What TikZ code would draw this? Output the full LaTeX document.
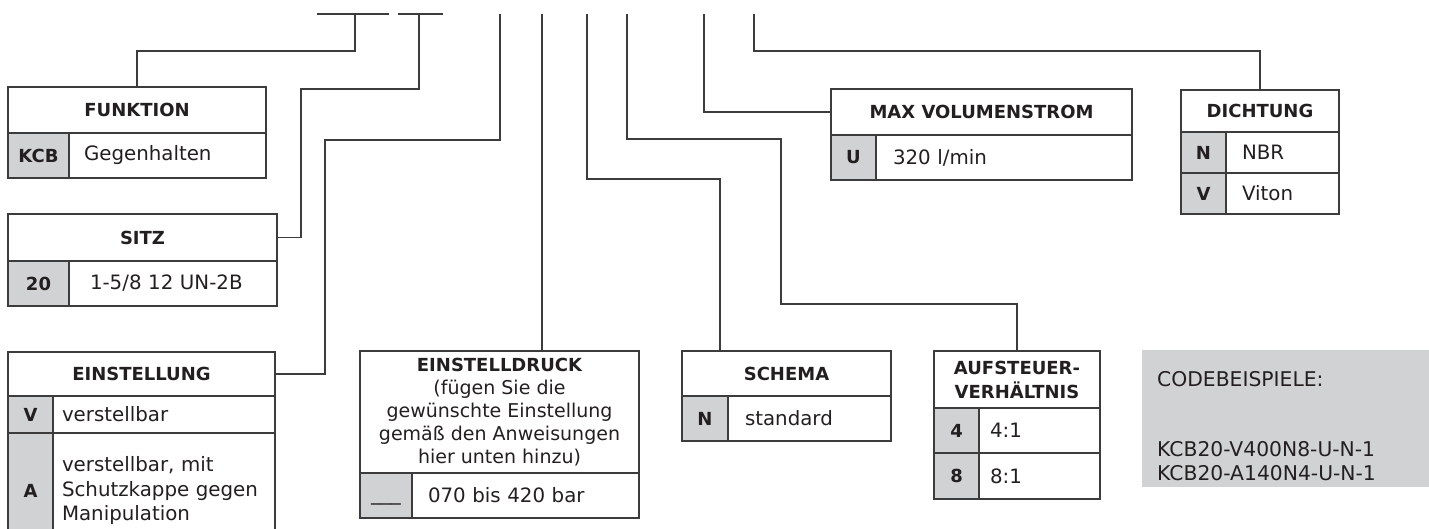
\documentclass[tikz,border=0pt]{standalone}
\usepackage{fontspec}
\setmainfont{DejaVu Sans}
\definecolor{ln}{HTML}{3C3C3C}
\definecolor{gr}{HTML}{D1D2D4}
\definecolor{tx}{HTML}{231F20}
\newcommand\hdrfont{\bfseries\fontsize{18}{24}\selectfont}
\newcommand\bodyfont{\fontsize{19.8}{24.5}\selectfont}
\newcommand\dfont{\fontsize{19}{22.8}\selectfont}
\newcommand\exfont{\fontsize{20.3}{24}\selectfont}
\begin{document}
\begin{tikzpicture}[x=1pt,y=-1pt,
  cell/.style={draw=ln, line width=1.2pt, rectangle, inner sep=0pt, outer sep=0pt, anchor=north west, text=tx},
  hdr/.style={cell, font=\hdrfont, align=center},
  codecell/.style={cell, fill=gr, font=\hdrfont},
  descell/.style={cell, font=\bodyfont, align=left},
  extext/.style={anchor=base west, inner sep=0pt, font=\exfont, text=tx},
  conn/.style={draw=ln, line width=1.2pt}]
\useasboundingbox (0,0) rectangle (1429,529);

% FUNKTION
\node[hdr, minimum width=258pt, minimum height=46pt] (fh) at (8,87) {FUNKTION};
\node[codecell, minimum width=61pt, minimum height=45pt] (fc) at (8,133) {KCB};
\node[descell, minimum width=197pt, minimum height=45pt, inner xsep=15pt, text width=167pt] (fd) at (69,133) {Gegenhalten};

% SITZ
\node[hdr, minimum width=269pt, minimum height=47pt] (sh) at (8,214) {SITZ};
\node[codecell, minimum width=61pt, minimum height=45pt] (sc) at (8,261) {20};
\node[descell, minimum width=208pt, minimum height=45pt, inner xsep=21pt, text width=166pt] (sd) at (69,261) {1-5/8 12 UN-2B};

% EINSTELLUNG
\node[hdr, minimum width=267pt, minimum height=44pt] (eh) at (8,352) {EINSTELLUNG};
\node[codecell, minimum width=45pt, minimum height=37pt] (ec1) at (8,396) {V};
\node[descell, minimum width=222pt, minimum height=37pt, inner xsep=9pt, text width=204pt] (ed1) at (53,396) {verstellbar};
\node[codecell, minimum width=45pt, minimum height=116pt] (ec2) at (8,433) {A};
\node[descell, minimum width=222pt, minimum height=116pt, inner xsep=9pt, text width=204pt] (ed2) at (53,433) {verstellbar, mit\\Schutzkappe gegen\\Manipulation};

% EINSTELLDRUCK
\node[hdr, font=\dfont, minimum width=279pt, minimum height=122pt] (dh) at (360,351) {{\hdrfont EINSTELLDRUCK}\\(fügen Sie die\\gewünschte Einstellung\\gemäß den Anweisungen\\hier unten hinzu)};
\node[codecell, font=\bodyfont, minimum width=52pt, minimum height=45pt] (dc) at (360,473) {\vphantom{Ag}\_\_\_};
\node[descell, minimum width=227pt, minimum height=45pt, inner xsep=16pt, text width=195pt] (dd) at (412,473) {070 bis 420 bar};

% SCHEMA
\node[hdr, minimum width=209pt, minimum height=45pt] (sch) at (682,351) {SCHEMA};
\node[codecell, minimum width=46pt, minimum height=45pt] (scc) at (682,396) {N};
\node[descell, minimum width=163pt, minimum height=45pt, inner xsep=17pt, text width=129pt] (scd) at (728,396) {standard};

% AUFSTEUERVERHAELTNIS
\node[hdr, minimum width=166pt, minimum height=57pt] (ah) at (934,351) {AUFSTEUER-\\VERHÄLTNIS};
\node[codecell, minimum width=45pt, minimum height=45pt] (ac1) at (934,408) {4};
\node[descell, minimum width=121pt, minimum height=45pt, inner xsep=11pt, text width=99pt] (ad1) at (979,408) {4:1};
\node[codecell, minimum width=45pt, minimum height=46pt] (ac2) at (934,453) {8};
\node[descell, minimum width=121pt, minimum height=46pt, inner xsep=11pt, text width=99pt] (ad2) at (979,453) {8:1};

% MAX VOLUMENSTROM
\node[hdr, minimum width=301pt, minimum height=46pt] (mh) at (831,89) {MAX VOLUMENSTROM};
\node[codecell, minimum width=45pt, minimum height=45pt] (mc) at (831,135) {U};
\node[descell, minimum width=256pt, minimum height=45pt, inner xsep=17pt, text width=222pt] (md) at (876,135) {320 l/min};

% DICHTUNG
\node[hdr, minimum width=158pt, minimum height=42pt] (dch) at (1181,90) {DICHTUNG};
\node[codecell, minimum width=45pt, minimum height=41pt] (dcc1) at (1181,132) {N};
\node[descell, minimum width=113pt, minimum height=41pt, inner xsep=16pt, text width=81pt] (dcd1) at (1226,132) {NBR};
\node[codecell, minimum width=45pt, minimum height=41pt] (dcc2) at (1181,173) {V};
\node[descell, minimum width=113pt, minimum height=41pt, inner xsep=16pt, text width=81pt] (dcd2) at (1226,173) {Viton};

% CODEBEISPIELE
\node[fill=gr, anchor=north west, inner sep=0pt, minimum width=290pt, minimum height=137pt] (ex) at (1142,350) {};
\node[extext] (ext) at (1157,386) {CODEBEISPIELE:};
\node[extext] (ex1) at (1157,456) {KCB20-V400N8-U-N-1};
\node[extext] (ex2) at (1157,480) {KCB20-A140N4-U-N-1};

% top code marks
\coordinate (s1a) at (317,14); \coordinate (s1b) at (389,14);
\coordinate (s2a) at (398,14); \coordinate (s2b) at (443,14);
\draw[conn] (s1a) -- (s1b);
\draw[conn] (s2a) -- (s2b);
\coordinate (t1) at (355,14);
\coordinate (t2) at (419,14);
\coordinate (t3) at (500,14);
\coordinate (t4) at (542,14);
\coordinate (t5) at (587,14);
\coordinate (t6) at (627,14);
\coordinate (t7) at (704,14);
\coordinate (t8) at (754,14);

% connectors
\draw[conn] (t1) -- (355,51) -| (fh.north);
\draw[conn] (t2) |- (301,89) |- (sh.east);
\draw[conn] (t3) |- (325,140) |- (eh.east);
\draw[conn] (t4) -- (t4 |- dh.north);
\coordinate (c5) at (720,179);
\draw[conn] (t5) |- (c5) -- (c5 |- sch.north);
\coordinate (c6) at (781,304);
\draw[conn] (t6) |- (781,139) -- (c6) -| (ah.north);
\draw[conn] (t7) |- (mh.west);
\draw[conn] (t8) -- (754,51) -| (dch.north);
\end{tikzpicture}
\end{document}
